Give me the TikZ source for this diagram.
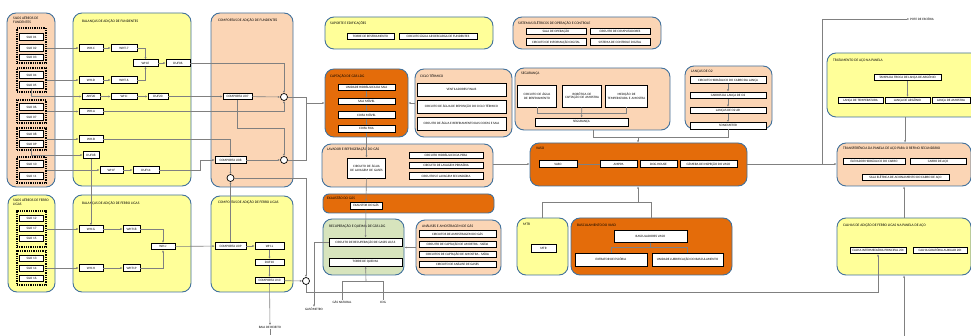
\documentclass[tikz,border=0pt]{standalone}
\usepackage{fontspec}
\setmainfont{Carlito}
\usetikzlibrary{arrows.meta,positioning,calc,fit}

\definecolor{peach}{RGB}{251,213,181}
\definecolor{lemon}{RGB}{255,255,153}
\definecolor{rust}{RGB}{228,108,10}
\definecolor{sage}{RGB}{215,228,189}
\definecolor{frame}{RGB}{65,113,156}
\definecolor{wire}{RGB}{128,128,128}

\newcommand{\boxfont}{\fontsize{3.3}{3.8}\selectfont}
\newcommand{\areafont}{\fontsize{3.6}{4.1}\selectfont}

\begin{document}
\begin{tikzpicture}[x=1pt,y=-1pt,>={Latex[length=2.2pt,width=2pt]}]
  \tikzstyle{grp}=[draw=frame,line width=0.9pt,rounded corners=9pt,inner sep=0pt]
  \tikzstyle{ttl}=[font=\areafont,anchor=west,inner sep=0pt,align=left]
  \tikzstyle{blk}=[draw,line width=0.8pt,fill=white,inner sep=0.3pt,minimum height=6.5,font=\boxfont,align=center]
  \tikzstyle{silo}=[blk,minimum width=24]
  \tikzstyle{dots}=[draw,line width=1.1pt,dash pattern=on 0.9pt off 0.9pt,inner sep=0pt]
  \tikzstyle{con}=[draw=wire,line width=0.6pt]
  \tikzstyle{jn}=[circle,draw,line width=0.7pt,fill=white,minimum size=7,inner sep=0pt]
  \tikzstyle{txt}=[font=\boxfont,inner sep=0.5pt]
  \useasboundingbox (0,0) rectangle (971,336);

  % areas
  \node[grp,fill=peach,fit={(7,13) (55,187)}] (gSilF) {};
  \node[grp,fill=lemon,fit={(73,13) (191,186)}] (gBalF) {};
  \node[grp,fill=peach,fit={(211,13) (293,187)}] (gCompF) {};
  \node[grp,fill=lemon,fit={(8,195) (55,292)}] (gSilL) {};
  \node[grp,fill=lemon,fit={(73,195) (191,292)}] (gBalL) {};
  \node[grp,fill=lemon,fit={(211,196) (293,292)}] (gCompL) {};
  \node[grp,fill=lemon,fit={(325,17) (493,49)}] (gSup) {};
  \node[grp,fill=peach,fit={(513,17) (661,49)}] (gEle) {};
  \node[grp,fill=rust,fit={(325,69) (408,137)}] (gCap) {};
  \node[grp,fill=peach,fit={(415,69) (512,137)}] (gCic) {};
  \node[grp,fill=peach,fit={(515,68) (670,130)}] (gSeg) {};
  \node[grp,fill=peach,fit={(685,66) (772,129)}] (gLan) {};
  \node[grp,fill=peach,fit={(322,144) (493,187)}] (gLav) {};
  \node[grp,fill=rust,fit={(530,143) (747,186)}] (gVaso) {};
  \node[grp,fill=rust,rounded corners=6pt,fit={(323,194) (494,213)}] (gExa) {};
  \node[grp,fill=sage,fit={(323,219) (404,275)}] (gRec) {};
  \node[grp,fill=peach,fit={(416,220) (501,275)}] (gAna) {};
  \node[grp,fill=lemon,fit={(517,218) (568,275)}] (gMtr) {};
  \node[grp,fill=rust,fit={(571,218) (732,275)}] (gBas) {};
  \node[grp,fill=lemon,fit={(827,53) (985,117)}] (gTrat) {};
  \node[grp,fill=peach,fit={(837,143) (971,186)}] (gTransf) {};
  \node[grp,fill=lemon,fit={(837,218) (971,275)}] (gCalha) {};

  % titles
  \node[ttl] (tSilF) at (13,20) {SILOS AÉREOS DE\\FUNDENTES};
  \node[ttl] (tBalF) at (82,21) {BALANÇAS DE ADIÇÃO DE FUNDENTES};
  \node[ttl] (tCompF) at (218,20) {COMPORTAS DE ADIÇÃO DE FUNDENTES};
  \node[ttl] (tSilL) at (13,202) {SILOS AÉREOS DE FERRO\\LIGAS};
  \node[ttl] (tBalL) at (82,203) {BALANÇAS DE ADIÇÃO DE FERRO LIGAS};
  \node[ttl] (tCompL) at (218,202) {COMPORTAS DE ADIÇÃO DE FERRO LIGAS};
  \node[ttl] (tSup) at (330,23) {SUPORTE E EDIFICAÇÕES};
  \node[ttl] (tEle) at (518,23) {SISTEMAS ELÉTRICOS DE OPERAÇÃO E CONTROLE};
  \node[ttl] (tCap) at (330,76) {CAPTAÇÃO DE GÁS LDG};
  \node[ttl] (tCic) at (420,76) {CICLO TÉRMICO};
  \node[ttl] (tSeg) at (521,74) {SEGURANÇA};
  \node[ttl] (tLan) at (691,72) {LANÇAS DE O2};
  \node[ttl] (tLav) at (327,149) {LAVADOR E REFRIGERAÇÃO DO GÁS};
  \node[ttl] (tVaso) at (536,148) {VASO};
  \node[ttl] (tExa) at (327,198) {EXAUSTÃO DO GÁS};
  \node[ttl] (tRec) at (329,226) {RECUPERAÇÃO E QUEIMA DE GÁS LDG};
  \node[ttl] (tAna) at (422,226) {ANÁLISES E AMOSTRAGEM DE GÁS};
  \node[ttl] (tMtr) at (523,224) {MTR};
  \node[ttl] (tBas) at (577,225) {BASCULAMENTO DO VASO};
  \node[ttl] (tTrat) at (833,61) {TRATAMENTO DE AÇO NA PANELA};
  \node[ttl] (tTransf) at (843,148) {TRANSFERÊNCIA DA PANELA DE AÇO PARA O REFINO SECUNDÁRIO};
  \node[ttl] (tCalha) at (843,225) {CALHAS DE ADIÇÃO DE FERRO LIGAS NA PANELA DE AÇO};

  % silos de fundentes
  \node[dots,fit={(17,28) (46,63)}] (sg1) {};
  \node[dots,fit={(17,68) (46,92)}] (sg2) {};
  \node[dots,fit={(17,100) (46,123)}] (sg3) {};
  \node[dots,fit={(17,128) (46,150)}] (sg4) {};
  \node[dots,fit={(17,157) (46,183)}] (sg5) {};
  \node[silo] (s01) at (31.5,37) {SILO 01};
  \node[silo] (s02) at (31.5,48) {SILO 02};
  \node[silo] (s03) at (31.5,57.5) {SILO 03};
  \node[silo] (s04) at (31.5,75) {SILO 04};
  \node[silo] (s05) at (31.5,85) {SILO 05};
  \node[silo] (s06) at (31.5,107) {SILO 06};
  \node[silo] (s07) at (31.5,117) {SILO 07};
  \node[silo] (s08) at (31.5,134) {SILO 08};
  \node[silo] (s09) at (31.5,144) {SILO 09};
  \node[silo] (s10) at (31.5,164) {SILO 10};
  \node[silo] (s11) at (31.5,176) {SILO 11};

  % silos de ferro ligas
  \node[dots,fit={(17,211) (46,247)}] (sg6) {};
  \node[dots,fit={(17,251) (46,285)}] (sg7) {};
  \node[silo] (s12) at (31.5,218.5) {SILO 12};
  \node[silo] (s13) at (31.5,228.5) {SILO 17};
  \node[silo] (s14) at (31.5,238.5) {SILO 15};
  \node[silo] (s15) at (31.5,258.5) {SILO 13};
  \node[silo] (s16) at (31.5,268.5) {SILO 14};
  \node[silo] (s17) at (31.5,278.5) {SILO 16};

  % balancas de fundentes
  \node[blk,minimum width=24] (whC) at (91,48) {WH-C};
  \node[blk,minimum width=26] (whT7) at (124,48) {WHT-7};
  \node[blk,minimum width=25] (whE) at (145.5,63) {WH-E};
  \node[blk,minimum width=24] (duf06) at (178,63) {DUF06};
  \node[blk,minimum width=24] (whD) at (91,80) {WH-D};
  \node[blk,minimum width=26] (whT6) at (124,80) {WHT-6};
  \node[blk,minimum width=18] (ahf20) at (91,96.5) {AHF20};
  \node[blk,minimum width=26] (whI) at (124,96.5) {WH-I};
  \node[blk,minimum width=20] (duf20) at (158,96.5) {DUF20};
  \node[blk,minimum width=24] (whA) at (91,111.5) {WH-A};
  \node[blk,minimum width=24] (whB) at (91,139) {WH-B};
  \node[blk,minimum width=16] (duf08) at (91,155) {DUF08};
  \node[blk,minimum width=23] (whF) at (111.5,170) {WH-F};
  \node[blk,minimum width=26] (duf14) at (146,170) {DUF14};

  % balancas de ferro ligas
  \node[blk,minimum width=24] (whG) at (91,229) {WH-G};
  \node[blk,minimum width=17] (whT18) at (131.5,229) {WHT18};
  \node[blk,minimum width=24] (whH) at (91,268) {WH-H};
  \node[blk,minimum width=17] (whT19) at (131.5,268) {WHT19};
  \node[blk,minimum width=24] (whJ) at (163,246.5) {WH-J};

  % comportas
  \node[blk,minimum width=29] (cpU07) at (237.5,96.5) {COMPORTA U07};
  \node[jn] (c1) at (284,97) {};
  \node[blk,minimum width=31] (cpU08) at (230.5,160) {COMPORTA U08};
  \node[jn] (c2) at (284,160) {};
  \node[jn] (c3) at (230.5,178) {};
  \node[blk,minimum width=31] (cpU09) at (230.5,246) {COMPORTA U09};
  \node[blk,minimum width=29] (whL) at (269.5,246) {WH-L};
  \node[blk,minimum width=29] (duf10) at (269.5,262.5) {DUF10};
  \node[blk,minimum width=29] (cpU10) at (269.5,280.5) {COMPORTA U10};
  \node[jn] (c4) at (306,281) {};
  \node[txt] (baia) at (270,327) {BAIA DE REJEITO};
  \node[txt] (gaso) at (314,309) {GASÔMETRO};
  \node[txt] (gnat) at (342,302) {GÁS NATURAL};
  \node[txt] (cog) at (383,302) {COG};

  % suporte e sistemas eletricos
  \node[blk,minimum width=47] (torreR) at (370.5,36.5) {TORRE DE RESFRIAMENTO};
  \node[blk,minimum width=78] (circAr) at (438,36.5) {CIRCUITO ÁGUA AR DESCARGA DE FUNDENTES};
  \node[blk,minimum width=60] (salaOp) at (556,31.5) {SALA DE OPERAÇÃO};
  \node[blk,minimum width=60] (circComp) at (620,31.5) {CIRCUITO DE COMPUTADORES};
  \node[blk,minimum width=60] (circInf) at (556,42) {CIRCUITO DE INFORMAÇÃO DIGITAL};
  \node[blk,minimum width=60] (sisCtrl) at (620,42) {SISTEMA DE CONTROLE DIGITAL};

  % captacao
  \node[blk,minimum width=57] (uhs) at (366.5,87.5) {UNIDADE HIDRÁULICA DA SAIA};
  \node[blk,minimum width=57,below=6.5pt of uhs] (saia) {SAIA MÓVEL};
  \node[blk,minimum width=57,below=6.5pt of saia] (coifaM) {COIFA MÓVEL};
  \node[blk,minimum width=57,below=6.5pt of coifaM] (coifaF) {COIFA FIXA};

  % ciclo termico
  \node[blk,minimum width=89,minimum height=13] (vent) at (461.5,89.5) {VENTILADORES FINAIS};
  \node[blk,minimum width=89,minimum height=13] (circRep) at (461.5,106.5) {CIRCUITO DE ÁGUA DE REPOSIÇÃO DO CICLO TÉRMICO};
  \node[blk,minimum width=89,minimum height=13] (circRes) at (461.5,123.5) {CIRCUITO DE ÁGUA E RESFRIAMENTO DAS COIFAS E SAIA};

  % seguranca
  \node[blk,text width=38,minimum height=22] (cAgua) at (537,96) {CIRCUITO DE ÁGUA\\DE RESFRIAMENTO};
  \node[blk,text width=38,minimum height=22] (robo) at (582,96) {ROBÓTICA DE\\CAPTAÇÃO DE AMOSTRA};
  \node[blk,text width=42,minimum height=22] (medT) at (626.5,96) {MEDIÇÃO DE\\TEMPERATURA E AMOSTRA};
  \node[blk,minimum width=93,minimum height=8] (segB) at (581.5,122) {SEGURANÇA};

  % lancas
  \node[blk,minimum width=76] (chl) at (728,80) {CIRCUITO HIDRÁULICO DO CARRO DA LANÇA};
  \node[blk,minimum width=76,below=8pt of chl] (carL) {CARROS DA LANÇA DE O2};
  \node[blk,minimum width=76,below=8pt of carL] (lanO) {LANÇAS DE O2 AR};
  \node[blk,minimum width=76,below=8pt of lanO] (sonic) {SONICMETER};

  % lavador
  \node[blk,text width=38,minimum height=20] (lavC) at (366.5,168) {CIRCUITO DE ÁGUA\\DE LAVAGEM DE GASES};
  \node[blk,minimum width=74] (hidP) at (446,155.5) {CIRCUITO HIDRÁULICO DA PERA};
  \node[blk,minimum width=74] (lavP) at (446,165.5) {CIRCUITO DE LAVAGEM PRIMÁRIA};
  \node[blk,minimum width=74] (lavS) at (446,176) {CIRCUITOS E LAVAGEM SECUNDÁRIA};

  % vaso
  \node[blk,minimum width=38] (vaso) at (558,164) {VASO};
  \node[blk,minimum width=37] (amppa) at (618.5,164) {AMPPA};
  \node[blk,minimum width=37] (dogH) at (658.5,164) {DOG HOUSE};
  \node[blk,minimum width=57] (cam) at (708.5,164) {CÂMERA DE INSPEÇÃO DO VASO};

  % exaustao, recuperacao, analises
  \node[blk,minimum width=32,minimum height=7] (exa) at (366,205.5) {EXAUSTOR DO GÁS};
  \node[blk,minimum width=73,minimum height=8] (recC) at (365.5,242) {CIRCUITO DE RECUPERAÇÃO DE GASES LD/LS};
  \node[blk,minimum width=73,minimum height=8] (torreQ) at (365.5,262) {TORRE DE QUEIMA};
  \node[blk,minimum width=77] (amsG) at (457.5,234) {CIRCUITOS DE AMOSTRAGEM DO GÁS};
  \node[blk,minimum width=77] (capE) at (457.5,244.5) {CIRCUITO DE CAPTAÇÃO DE AMOSTRA - SAÍDA};
  \node[blk,minimum width=77] (capS) at (457.5,254.5) {CIRCUITOS DE CAPTAÇÃO DE AMOSTRA - SAÍDA};
  \node[blk,minimum width=77] (anG) at (457.5,264.5) {CIRCUITO DE ANÁLISE DE GASES};

  % mtr e basculamento
  \node[blk,minimum width=25,minimum height=8] (mtr) at (543.5,248) {MTR};
  \node[blk,minimum width=73,minimum height=12] (basc) at (650.5,236) {BASCULADORES VASO};
  \node[blk,minimum width=72,minimum height=13] (extr) at (611,259.5) {EXTRATOR DE ESCÓRIA};
  \node[blk,minimum width=71,minimum height=13] (ulub) at (687.5,259.5) {UNIDADE LUBRIFICAÇÃO DO BASCULAMENTO};

  % panela
  \node[blk,minimum width=67] (tampa) at (907.5,77.5) {TAMPA DA TROCA DE LANÇA DE ARGÔNIO};
  \node[blk,minimum width=45] (lTemp) at (860.5,100.5) {LANÇA DE TEMPERATURA};
  \node[blk,minimum width=45] (lArg) at (907.5,100.5) {LANÇA DE ARGÔNIO};
  \node[blk,minimum width=38] (lAmo) at (951,100.5) {LANÇA DE AMOSTRA};
  \node[blk,minimum width=62] (elev) at (874,161.5) {ELEVADOR HIDRÁULICO DO CARRO};
  \node[blk,minimum width=56] (carro) at (938,161.5) {CARRO DE AÇO};
  \node[blk,minimum width=87] (salaE) at (905.5,177.5) {SALA ELÉTRICA DE ACIONAMENTO DO CARRO DE AÇO};
  \node[blk,minimum width=56] (calP) at (878,250.5) {CALHA INTERMEDIÁRIA PRINCIPAL 20t};
  \node[blk,minimum width=54] (calA) at (940,250.5) {CALHA GIRATÓRIA AUXILIAR 20t};
  \node[txt] (pote) at (922,19) {POTE DE ESCÓRIA};

  \coordinate (m1) at (306,103);
  \coordinate (kSeg) at (638,137);
  \coordinate (kBas) at (638,202);
  \coordinate (kPote) at (822,164);
  \coordinate (kGas) at (366,281);
  \coordinate (kCal) at (904,340);

  % ligacoes fundentes
  \draw[con,->] (s02.east -| sg1.east) -- (whC);
  \draw[con,->] (sg2) -- (whD);
  \draw[con,->] (s05.south) |- (ahf20);
  \draw[con,->] (sg3) -- (whA);
  \draw[con,->] (sg4) -- (whB);
  \draw[con,->] (s09.south) |- (duf08);
  \draw[con,->] (sg5) -- (whF);
  \draw[con,->] (whC) -- (whT7);
  \draw[con,->] (whD) -- (whT6);
  \draw[con,->] (whT7) -| (whE);
  \draw[con,->] (whT6) -| (whE);
  \draw[con,->] (whE) -- (duf06);
  \draw[con,->] (ahf20) -- (whI);
  \draw[con,->] (whI) -- (duf20);
  \draw[con,->] (duf20) -- (cpU07);
  \draw[con,->] (whF) -- (duf14);
  \draw[con,->] (duf14.east) -- ++(41,0) |- (cpU08);
  \draw[con,->] (whB) -| (cpU08);
  \draw[con,->] (duf06) -| (c1);
  \draw[con,->] (whA) -| (c1);
  \draw[con,->] (cpU07) -- (c1);
  \draw[con,->] (cpU07.south) -- ++(0,28) -| (c2);
  \draw[con,->] (cpU08) -- (c2);
  \draw[con,->] (cpU08) -- (c3);
  \draw[con] (c1) -| (m1);
  \draw[con] (c2) -| (m1);
  \draw[con,->] (m1) -- (gCap.west |- m1);
  \draw[con,->] (c3) -| (c4);

  % ligacoes ferro ligas
  \draw[con,->] (duf08) -- (whG);
  \draw[con,->] (sg6) -- (whG);
  \draw[con,->] (sg7) -- (whH);
  \draw[con,->] (whG) -- (whT18);
  \draw[con,->] (whH) -- (whT19);
  \draw[con,->] (whT18) -| (whJ);
  \draw[con,->] (whT19) -| (whJ);
  \draw[con,->] (whJ) -- (cpU09);
  \draw[con,->] (cpU09) -- (c3);
  \draw[con,->] (cpU09) -- (whL);
  \draw[con,->] (whL) -- (duf10);
  \draw[con,->] (duf10) -- (cpU10);
  \draw[con,->] (cpU10) -- (c4);
  \draw[con,->] (cpU10) -- (baia);
  \draw[con] (baia.south) -- ++(0,6);
  \draw[con,->] (c4.south) -- ++(0,7.5) -| (calP);

  % ligacoes do gas
  \draw[con,->] (gCic.west) -- (gCap.east);
  \draw[con,->] (uhs) -- (saia);
  \draw[con,->] (saia) -- (coifaM);
  \draw[con,->] (coifaM) -- (coifaF);
  \draw[con,->] (coifaF) -- (lavC);
  \draw[con,->] (lavC) -- (exa);
  \draw[con,->] (exa) -- (recC);
  \draw[con,->] (recC) -| (gaso);
  \draw[con,->] (gAna.west) -- (gRec.east |- gAna.west);
  \draw[con] (gnat) |- (kGas);
  \draw[con] (cog) |- (kGas);
  \draw[con,->] (kGas) -- (torreQ);

  % ligacoes do vaso
  \draw[con,->] (gLav.east |- vaso) -- (gVaso.west |- vaso);
  \draw[con,->] (amppa) -- (vaso);
  \draw[con] (cAgua.south) -- ++(0,6) -| (medT.south);
  \draw[con,->] (robo) -- (segB);
  \draw[con,->] (chl) -- (carL);
  \draw[con,->] (carL) -- (lanO);
  \draw[con,->] (lanO) -- (sonic);
  \draw[con] (gSeg.south -| 593,0) |- (kSeg);
  \draw[con] (gLan.south) |- (kSeg);
  \draw[con,->] (kSeg) -- (gVaso.north -| kSeg);
  \draw[con] (gMtr.north) |- (kBas);
  \draw[con] (gBas.north) |- (kBas);
  \draw[con,->] (kBas) -- (gVaso.south -| kBas);
  \draw[con] (extr.north) -- ++(0,-5) -| (ulub.north);
  \draw[con,->] (basc.south |- 0,248) -- (basc.south);
  \draw[con,->] (gVaso.east |- vaso) -- (gTransf.west |- vaso);
  \draw[con,->] (kPote) |- (pote.west);

  % ligacoes da panela
  \draw[con,->] (tampa) -- (lArg);
  \draw[con,->] (gTrat.south -| 905,0) -- (gTransf.north -| 905,0);
  \draw[con,->] (gCalha.north -| kCal) -- (gTransf.south -| kCal);
  \draw[con,->] (kCal) -- (gCalha.south -| kCal);
\end{tikzpicture}
\end{document}
